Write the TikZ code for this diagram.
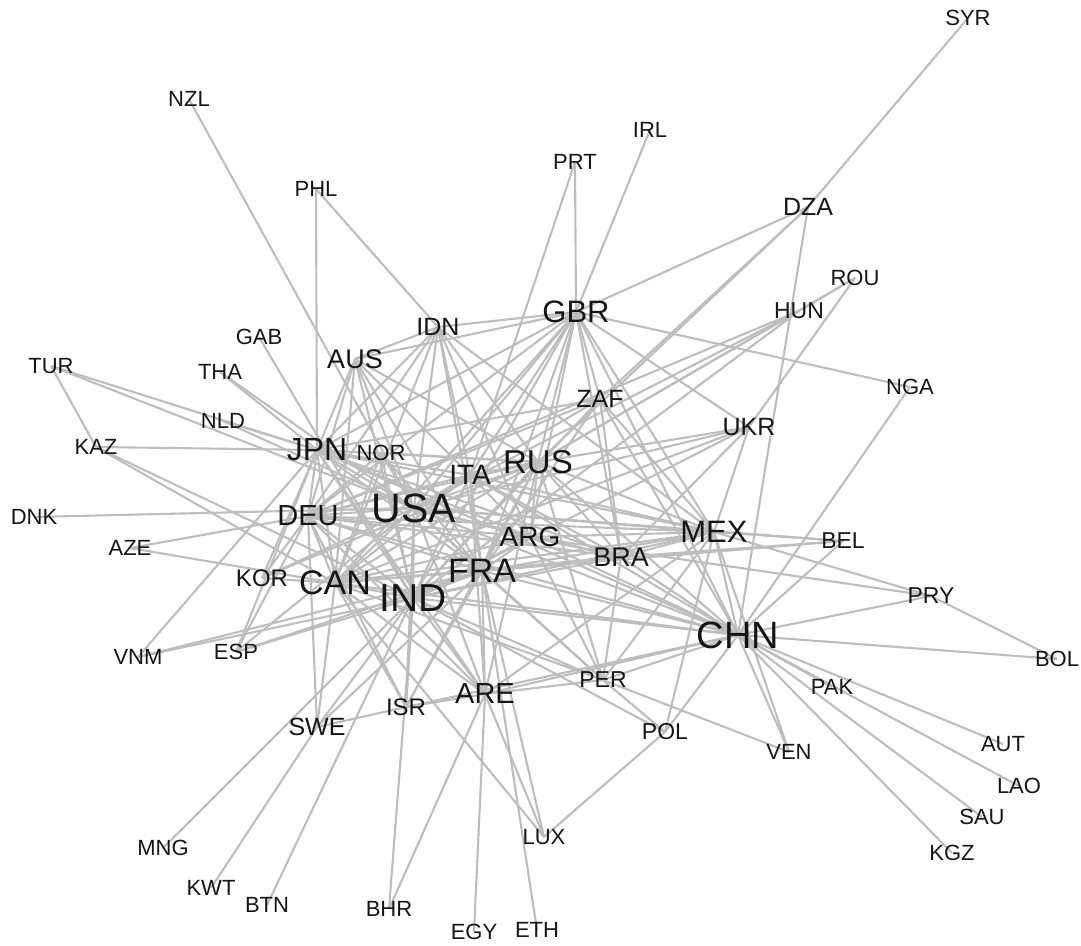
\documentclass[tikz,border=0pt]{standalone}
\usepackage{fontspec}
\setmainfont{Liberation Sans}
\pgfdeclarelayer{background}
\pgfsetlayers{background,main}
\definecolor{edgec}{HTML}{BDBDBD}
\definecolor{labc}{HTML}{151515}
\begin{document}
\begin{tikzpicture}[x=1pt,y=-1pt,
  lab/.style={font=\fontsize{#1}{#1}\selectfont, text=labc, inner sep=0pt},
  edge/.style={draw=edgec, line width=2.1pt}]
\useasboundingbox (0,0) rectangle (1081,945);
% nodes
\node[lab=41] (USA) at (414,508) {USA};
\node[lab=38] (CHN) at (738,635) {CHN};
\node[lab=39] (IND) at (413,598) {IND};
\node[lab=34] (CAN) at (335,583) {CAN};
\node[lab=34] (FRA) at (482,571) {FRA};
\node[lab=32] (JPN) at (317,450) {JPN};
\node[lab=33] (RUS) at (538,462) {RUS};
\node[lab=31] (GBR) at (576,312) {GBR};
\node[lab=31] (MEX) at (714,532) {MEX};
\node[lab=29] (DEU) at (308,516) {DEU};
\node[lab=29] (ARE) at (485,694) {ARE};
\node[lab=28] (ITA) at (470,475) {ITA};
\node[lab=28] (ARG) at (530,537) {ARG};
\node[lab=27] (BRA) at (621,557) {BRA};
\node[lab=27] (AUS) at (355,359) {AUS};
\node[lab=25] (ZAF) at (600,399) {ZAF};
\node[lab=25] (IDN) at (438,327) {IDN};
\node[lab=25] (UKR) at (749,427) {UKR};
\node[lab=25] (DZA) at (808,207) {DZA};
\node[lab=25] (SWE) at (317,727) {SWE};
\node[lab=24] (KOR) at (262,578) {KOR};
\node[lab=24] (ISR) at (406,707) {ISR};
\node[lab=22] (NOR) at (381,453) {NOR};
\node[lab=23] (HUN) at (799,311) {HUN};
\node[lab=23] (BEL) at (843,541) {BEL};
\node[lab=23] (PER) at (603,680) {PER};
\node[lab=23] (POL) at (665,732) {POL};
\node[lab=23] (PRY) at (931,596) {PRY};
\node[lab=22] (SYR) at (968,18) {SYR};
\node[lab=22] (NZL) at (189,99) {NZL};
\node[lab=22] (IRL) at (650,130) {IRL};
\node[lab=22] (PRT) at (575,162) {PRT};
\node[lab=22] (PHL) at (316,189) {PHL};
\node[lab=22] (ROU) at (855,278) {ROU};
\node[lab=22] (GAB) at (259,337) {GAB};
\node[lab=22] (TUR) at (51,366) {TUR};
\node[lab=22] (THA) at (220,372) {THA};
\node[lab=22] (NGA) at (910,387) {NGA};
\node[lab=22] (NLD) at (223,421) {NLD};
\node[lab=22] (KAZ) at (96,447) {KAZ};
\node[lab=22] (DNK) at (34,517) {DNK};
\node[lab=22] (AZE) at (130,548) {AZE};
\node[lab=22] (VNM) at (138,657) {VNM};
\node[lab=22] (ESP) at (236,652) {ESP};
\node[lab=22] (BOL) at (1057,659) {BOL};
\node[lab=22] (PAK) at (832,687) {PAK};
\node[lab=22] (VEN) at (789,752) {VEN};
\node[lab=22] (AUT) at (1003,744) {AUT};
\node[lab=22] (LAO) at (1019,786) {LAO};
\node[lab=22] (SAU) at (982,817) {SAU};
\node[lab=22] (KGZ) at (952,853) {KGZ};
\node[lab=22] (MNG) at (163,848) {MNG};
\node[lab=22] (LUX) at (544,837) {LUX};
\node[lab=22] (KWT) at (211,888) {KWT};
\node[lab=22] (BTN) at (267,905) {BTN};
\node[lab=22] (BHR) at (389,909) {BHR};
\node[lab=22] (EGY) at (474,932) {EGY};
\node[lab=22] (ETH) at (537,930) {ETH};
% edges
\begin{pgfonlayer}{background}
\foreach \a/\b in {
 SYR/DZA, DZA/GBR, DZA/RUS, DZA/ZAF, DZA/CHN,
 NZL/USA, PHL/JPN, PHL/IDN, PRT/GBR, PRT/ITA, IRL/GBR,
 ROU/HUN, ROU/RUS, ROU/UKR,
 HUN/DEU, HUN/USA, HUN/RUS, HUN/IND,
 NGA/GBR, NGA/CHN,
 UKR/RUS, UKR/USA, UKR/CAN, UKR/MEX, UKR/BRA, UKR/IND,
 BEL/MEX, BEL/BRA, BEL/CHN, BEL/FRA,
 PRY/MEX, PRY/ARG, PRY/CHN, PRY/BOL, BOL/CHN,
 CHN/PAK, CHN/AUT, CHN/LAO, CHN/SAU, CHN/KGZ, CHN/VEN, MEX/VEN, PER/VEN,
 POL/LUX, POL/PER, POL/CHN, POL/MEX,
 LUX/CAN, LUX/FRA, ARE/LUX,
 ETH/FRA, EGY/ARE, BHR/ARE, BHR/IND,
 BTN/IND, KWT/SWE, MNG/IND,
 SWE/ISR, ISR/ARE, SWE/DEU, SWE/CAN, SWE/IND, SWE/FRA,
 TUR/KAZ, TUR/JPN, TUR/USA,
 THA/JPN, THA/USA, GAB/IND, NLD/JPN, NLD/USA,
 KAZ/JPN, KAZ/CAN, KAZ/IND,
 DNK/USA, AZE/DEU, AZE/CAN,
 VNM/JPN, VNM/IND, VNM/FRA,
 ESP/DEU, ESP/IND, ESP/FRA, ESP/USA,
 KOR/CAN, KOR/DEU, KOR/USA, KOR/JPN,
 GBR/IDN, GBR/AUS, GBR/JPN, GBR/USA, GBR/ITA, GBR/RUS, GBR/ZAF, GBR/ARG,
 GBR/FRA, GBR/BRA, GBR/MEX, GBR/CHN, GBR/IND, GBR/DEU, GBR/CAN, GBR/UKR,
 IDN/AUS, IDN/JPN, IDN/USA, IDN/ITA, IDN/RUS, IDN/ARG, IDN/CAN, IDN/DEU, IDN/FRA, IDN/MEX,
 AUS/JPN, AUS/DEU, AUS/USA, AUS/ITA, AUS/CAN, AUS/IND, AUS/FRA, AUS/RUS,
 ZAF/USA, ZAF/JPN, ZAF/IND, ZAF/CHN, ZAF/MEX, ZAF/BRA, ZAF/DEU, ZAF/FRA,
 JPN/USA, JPN/DEU, JPN/CAN, JPN/IND, JPN/FRA, JPN/ITA, JPN/RUS, JPN/ARG,
 JPN/CHN, JPN/BRA, JPN/MEX, JPN/ARE, JPN/ESP,
 NOR/USA, NOR/CAN, NOR/IND, NOR/DEU, NOR/RUS, NOR/FRA,
 ITA/USA, ITA/RUS, ITA/DEU, ITA/FRA, ITA/CAN, ITA/IND, ITA/ARG, ITA/MEX, ITA/BRA, ITA/CHN, ITA/ARE,
 RUS/USA, RUS/CHN, RUS/IND, RUS/FRA, RUS/DEU, RUS/CAN, RUS/ARG, RUS/BRA, RUS/MEX,
 RUS/ARE, RUS/PER, RUS/ISR, RUS/KOR,
 USA/CAN, USA/IND, USA/FRA, USA/DEU, USA/MEX, USA/CHN, USA/BRA, USA/ARG,
 USA/ARE, USA/ISR, USA/PER, USA/BEL,
 DEU/CAN, DEU/IND, DEU/FRA, DEU/CHN, DEU/MEX, DEU/BRA, DEU/ARG, DEU/ISR, DEU/ARE,
 CAN/IND, CAN/FRA, CAN/MEX, CAN/CHN, CAN/BRA, CAN/ARG, CAN/ISR, CAN/ARE, CAN/PER,
 IND/FRA, IND/CHN, IND/MEX, IND/BRA, IND/ARG, IND/ARE, IND/ISR, IND/PER, IND/POL,
 FRA/MEX, FRA/CHN, FRA/BRA, FRA/ARG, FRA/ARE, FRA/ISR, FRA/PER,
 ARG/BRA, ARG/MEX, ARG/CHN, ARG/PER,
 BRA/MEX, BRA/CHN, BRA/PER,
 MEX/CHN, MEX/PER, MEX/ARE,
 CHN/PER, CHN/ARE, CHN/ISR, PER/ARE}
  \draw[edge] (\a.center) -- (\b.center);
\end{pgfonlayer}
\end{tikzpicture}
\end{document}
